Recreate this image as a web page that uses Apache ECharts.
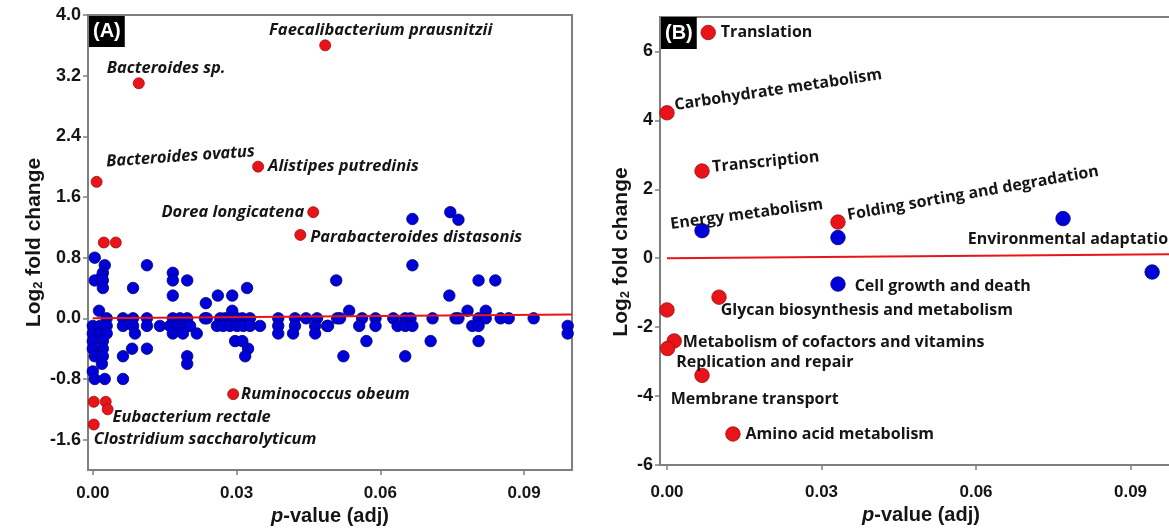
<!DOCTYPE html>
<html><head><meta charset="utf-8">
<script src="https://cdn.jsdelivr.net/npm/echarts@6/dist/echarts.min.js"></script>
<style>html,body{margin:0;padding:0;background:#fff}#c{width:1169px;height:528px}</style>
</head><body><div id="c"></div>
<script>
// ---------- tick labels ----------
const ticksA_y = [-1.6, -0.8, 0.0, 0.8, 1.6, 2.4, 3.2, 4.0];
const ticksA_x = [0, 0.03, 0.06, 0.09];
const ticksB_y = [-6, -4, -2, 0, 2, 4, 6];
const ticksB_x = [0, 0.03, 0.06, 0.09];

// ---------- Panel A: significant species (red) ----------
const speciesNames = ['Faecalibacterium prausnitzii','Bacteroides sp.','Bacteroides ovatus','Alistipes putredinis','Dorea longicatena','Parabacteroides distasonis','','','Ruminococcus obeum','','','Eubacterium rectale','Clostridium saccharolyticum'];
const speciesP     = [0.0485, 0.0096, 0.0008, 0.0345, 0.0460, 0.0433, 0.0023, 0.0048, 0.0293, 0.0002, 0.0027, 0.0031, 0.0002];
const speciesLFC   = [3.60, 3.10, 1.80, 2.00, 1.40, 1.10, 1.00, 1.00, -1.00, -1.10, -1.10, -1.20, -1.40];

// ---------- Panel A: non-significant species (blue) ----------
const otherP = [
 0.0004,0.0025,0.0113,0.0021,0.0019,0.0004,0.0021,0.0021,0.0084,0.0167,0.0167,0.0197,0.0167,0.0236,0.0013,
 0.0029,0.0063,0.0084,0.0113,0.0167,0.0182,0.0197,0.0234,
 0.0000,0.0015,0.0029,0.0063,0.0084,0.0113,0.0140,0.0161,0.0176,0.0188,0.0203,
 0.0000,0.0015,0.0029,0.0088,0.0167,0.0188,0.0217,
 0.0000,0.0021,
 0.0000,0.0021,0.0082,0.0113,
 0.0004,0.0021,0.0063,0.0197,
 0.0019,0.0197,
 0.0000,
 0.0004,0.0025,0.0063,
 0.0261,0.0291,0.0322,0.0291,
 0.0238,0.0266,0.0276,0.0286,0.0301,0.0312,0.0328,0.0387,0.0422,0.0445,0.0468,
 0.0259,0.0272,0.0286,0.0301,0.0314,0.0328,0.0349,0.0387,0.0422,0.0464,0.0489,
 0.0387,0.0418,0.0464,
 0.0297,0.0312,0.0324,0.0318,
 0.0667,0.0746,0.0763,0.0667,0.0508,0.0805,0.0840,0.0744,0.0535,0.0782,0.0820,
 0.0510,0.0516,0.0562,0.0590,0.0627,0.0652,0.0663,0.0709,0.0757,0.0763,0.0805,0.0820,0.0851,0.0868,0.0920,
 0.0491,0.0556,0.0590,0.0636,0.0652,0.0667,0.0792,0.0805,0.0991,
 0.0991,0.0571,0.0705,0.0805,0.0523,0.0652
];
const otherLFC = [
 0.8,0.7,0.7,0.6,0.55,0.5,0.5,0.4,0.4,0.6,0.5,0.5,0.3,0.2,0.1,
 0,0,0,0,0,0,0,0,
 -0.1,-0.1,-0.1,-0.1,-0.1,-0.1,-0.1,-0.1,-0.1,-0.1,-0.1,
 -0.2,-0.2,-0.2,-0.2,-0.2,-0.2,-0.2,
 -0.3,-0.3,
 -0.4,-0.4,-0.4,-0.4,
 -0.5,-0.5,-0.5,-0.5,
 -0.6,-0.6,
 -0.7,
 -0.8,-0.8,-0.8,
 0.3,0.3,0.4,0.1,
 0,0,0,0,0,0,0,0,0,0,0,
 -0.1,-0.1,-0.1,-0.1,-0.1,-0.1,-0.1,-0.1,-0.1,-0.1,-0.1,
 -0.2,-0.2,-0.2,
 -0.3,-0.3,-0.4,-0.5,
 1.31,1.4,1.3,0.7,0.5,0.5,0.5,0.3,0.1,0.1,0.1,
 0,0,0,0,0,0,0,0,0,0,0,0,0,0,0,
 -0.1,-0.1,-0.1,-0.1,-0.1,-0.1,-0.1,-0.1,-0.1,
 -0.2,-0.3,-0.3,-0.3,-0.5,-0.5
];
const trendA_p = [0, 0.1];
const trendA_lfc = [0, 0.05];

// ---------- Panel B: pathways ----------
const pathRedNames = ['Translation','Carbohydrate metabolism','Transcription','Folding sorting and degradation','Glycan biosynthesis and metabolism','','Metabolism of cofactors and vitamins','Replication and repair','Membrane transport','Amino acid metabolism'];
const pathRedP     = [0.0080, 0.0000, 0.0068, 0.0332, 0.0101, 0.0000, 0.0014, 0.0001, 0.0068, 0.0128];
const pathRedLFC   = [6.55, 4.22, 2.53, 1.05, -1.13, -1.50, -2.40, -2.62, -3.40, -5.10];
const pathBlueNames = ['Energy metabolism','','Cell growth and death','Environmental adaptation',''];
const pathBlueP     = [0.0068, 0.0332, 0.0332, 0.0769, 0.0942];
const pathBlueLFC   = [0.80, 0.60, -0.75, 1.15, -0.40];
const trendB_p = [0, 0.1];
const trendB_lfc = [0, 0.12];

// ---------- label layout (style only) ----------
const labelLayoutA = {
 'Faecalibacterium prausnitzii': {offset:[-67,-15]},
 'Bacteroides sp.': {offset:[-43,-15]},
 'Bacteroides ovatus': {offset:[0,-20], rotate:4},
 'Alistipes putredinis': {offset:[-1,0]},
 'Dorea longicatena': {position:'left', offset:[2,0]},
 'Parabacteroides distasonis': {offset:[-1,2]},
 'Ruminococcus obeum': {offset:[-3,0]},
 'Eubacterium rectale': {offset:[-6,8]},
 'Clostridium saccharolyticum': {offset:[-11,15]}
};
const labelLayoutB = {
 'Translation': {offset:[0,0]},
 'Carbohydrate metabolism': {offset:[-4,-8], rotate:8.5},
 'Transcription': {offset:[-2,-4], rotate:5.5},
 'Energy metabolism': {offset:[-43,-12], rotate:7.5},
 'Folding sorting and degradation': {offset:[-2,-7], rotate:10},
 'Environmental adaptation': {offset:[-108,21]},
 'Cell growth and death': {offset:[4,2]},
 'Glycan biosynthesis and metabolism': {offset:[-11,13]},
 'Metabolism of cofactors and vitamins': {offset:[-4,1]},
 'Replication and repair': {offset:[-4,14]},
 'Membrane transport': {offset:[-44,24]},
 'Amino acid metabolism': {offset:[0,0]}
};

const RED = '#e8141a', RED_B = '#a00d0d', BLUE = '#0000d8', BLUE_B = '#00007a';
const AXIS = '#7f7f7f';
const TXT = '#151515';

function pts(ps, vs, names, layout, labelStyle) {
  return ps.map((p, i) => {
    const d = {value: [p, vs[i]], name: names ? names[i] : ''};
    if (names && names[i]) {
      const l = layout[names[i]] || {};
      d.label = Object.assign({show: true, formatter: names[i], position: l.position || 'right',
        offset: l.offset || [0,0], rotate: l.rotate || 0}, labelStyle);
    }
    return d;
  });
}

const labelStyleA = {fontFamily: 'Open Sans', fontWeight: 'bold', fontStyle: 'italic', fontSize: 16.5, color: TXT};
const labelStyleB = {fontFamily: 'Open Sans', fontWeight: 'bold', fontSize: 16, color: TXT};

function yAxisCommon(ticks, min, max, dec, gridIndex) {
  return {
    type: 'value', gridIndex, min, max,
    axisLine: {show: true, onZero: false, lineStyle: {color: AXIS, width: 2}},
    axisTick: {show: true, length: 5, lineStyle: {color: AXIS, width: 1.5}, customValues: ticks},
    axisLabel: {customValues: ticks, formatter: v => Number(v).toFixed(dec), fontFamily: 'Liberation Sans', fontWeight: 'bold', fontSize: 18, color: TXT, margin: 7},
    splitLine: {show: false},
    name: 'Log{sub|2} fold change', nameLocation: 'middle', nameRotate: 90,
    nameTextStyle: {fontFamily: 'Liberation Sans', fontWeight: 'bold', fontSize: 21, color: TXT,
      rich: {sub: {fontFamily: 'Liberation Sans', fontWeight: 'bold', fontSize: 13, color: TXT, verticalAlign: 'bottom', padding: [9,0,0,0]}}}
  };
}
function xAxisCommon(ticks, min, max, gridIndex, margin, gap) {
  return {
    type: 'value', gridIndex, min, max,
    axisLine: {show: true, onZero: false, lineStyle: {color: AXIS, width: 2}},
    axisTick: {show: true, length: 5, lineStyle: {color: AXIS, width: 1.5}, customValues: ticks},
    axisLabel: {customValues: ticks, formatter: v => Number(v).toFixed(2), fontFamily: 'Liberation Sans', fontWeight: 'bold', fontSize: 17, color: TXT, margin},
    splitLine: {show: false},
    name: '{i|p}-value (adj)', nameLocation: 'middle', nameGap: gap,
    nameTextStyle: {fontFamily: 'Liberation Sans', fontWeight: 'bold', fontSize: 20, color: TXT,
      rich: {i: {fontFamily: 'Liberation Sans', fontWeight: 'bold', fontStyle: 'italic', fontSize: 20, color: TXT}}}
  };
}

const chart = echarts.init(document.getElementById('c'), null, {renderer: 'canvas'});
const yA = yAxisCommon(ticksA_y, -2, 4, 1, 0); yA.nameGap = 43;
const yB = yAxisCommon(ticksB_y, -6, 7, 0, 1); yB.nameGap = 28;
yB.nameTextStyle.padding = [0, 22, 0, 0];

chart.setOption({
  backgroundColor: '#fff',
  animation: false,
  title: [
    {text: '(A)', left: 89, top: 16, padding: [5,4,6,4], backgroundColor: '#000',
     textStyle: {color: '#fff', fontFamily: 'Liberation Sans', fontWeight: 'bold', fontSize: 20}},
    {text: '(B)', left: 661, top: 17, padding: [6,4,6,4], backgroundColor: '#000',
     textStyle: {color: '#fff', fontFamily: 'Liberation Sans', fontWeight: 'bold', fontSize: 20}}
  ],
  grid: [
    {left: 88, top: 15, width: 484, height: 455, show: true, borderColor: AXIS, borderWidth: 2, backgroundColor: 'transparent', outerBoundsMode: 'none', containLabel: false},
    {left: 660, top: 17, width: 522, height: 448, show: true, borderColor: AXIS, borderWidth: 2, backgroundColor: 'transparent', outerBoundsMode: 'none', containLabel: false}
  ],
  xAxis: [xAxisCommon(ticksA_x, -0.001, 0.1, 0, 15, 34), xAxisCommon(ticksB_x, -0.00136, 0.1, 1, 19, 39)],
  yAxis: [yA, yB],
  series: [
    {type: 'scatter', xAxisIndex: 0, yAxisIndex: 0, symbolSize: 11.5, z: 3,
     itemStyle: {color: BLUE, borderColor: BLUE_B, borderWidth: 0.8, opacity: 1},
     data: pts(otherP, otherLFC, null, {}, {})},
    {type: 'line', xAxisIndex: 0, yAxisIndex: 0, symbol: 'none', z: 4,
     lineStyle: {color: RED, width: 2}, data: trendA_p.map((p, i) => [p, trendA_lfc[i]])},
    {type: 'scatter', xAxisIndex: 0, yAxisIndex: 0, symbolSize: 11, z: 5,
     itemStyle: {color: RED, borderColor: RED_B, borderWidth: 0.8, opacity: 1},
     data: pts(speciesP, speciesLFC, speciesNames, labelLayoutA, labelStyleA)},
    {type: 'line', xAxisIndex: 1, yAxisIndex: 1, symbol: 'none', z: 2,
     lineStyle: {color: RED, width: 2}, data: trendB_p.map((p, i) => [p, trendB_lfc[i]])},
    {type: 'scatter', xAxisIndex: 1, yAxisIndex: 1, symbolSize: 14.5, z: 5,
     itemStyle: {color: BLUE, borderColor: BLUE_B, borderWidth: 0.8, opacity: 1},
     data: pts(pathBlueP, pathBlueLFC, pathBlueNames, labelLayoutB, labelStyleB)},
    {type: 'scatter', xAxisIndex: 1, yAxisIndex: 1, symbolSize: 14.5, z: 5,
     itemStyle: {color: RED, borderColor: RED_B, borderWidth: 0.8, opacity: 1},
     data: pts(pathRedP, pathRedLFC, pathRedNames, labelLayoutB, labelStyleB)}
  ]
});
</script></body></html>
